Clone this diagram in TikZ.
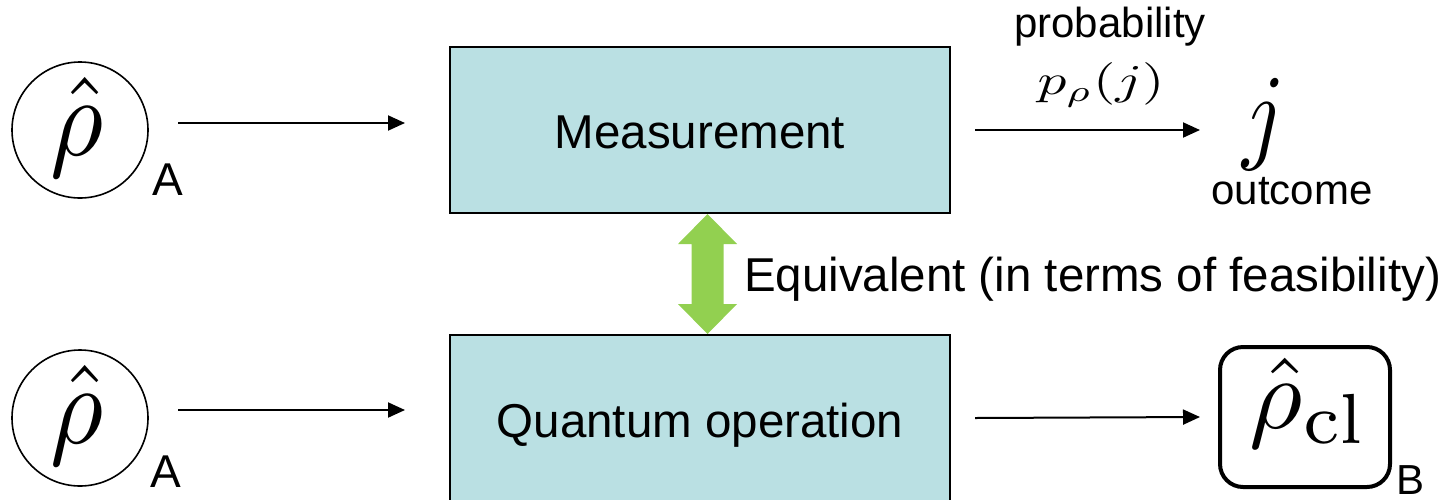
\documentclass[tikz,border=0pt]{standalone}
\usepackage[no-math]{fontspec}
\setmainfont{Liberation Sans}
\usepackage{graphicx}
\usetikzlibrary{arrows.meta,calc}
\definecolor{boxfill}{RGB}{186,224,227}
\definecolor{eqgreen}{RGB}{146,208,80}
\begin{document}
\begin{tikzpicture}[x=1pt,y=-1pt,
  every node/.style={inner sep=0pt,outer sep=0pt},
  procbox/.style={draw=black,line width=2pt,fill=boxfill,minimum width=500pt},
  statecirc/.style={draw=black,circle,line width=1.6pt,minimum size=136pt},
  flow/.style={line width=2pt,-{Triangle[length=17pt,width=15pt]}},
  lbl/.style={font=\fontsize{47.5}{52}\selectfont},
  albl/.style={font=\fontsize{46}{50}\selectfont},
  smalllbl/.style={font=\fontsize{42}{46}\selectfont},
]
\useasboundingbox (0,0) rectangle (1450,499);
\clip (0,0) rectangle (1450,499);

% top row
\node[statecirc] (s1) at (80,130) {};
\node (r1) at (77,127) {\resizebox*{53pt}{100pt}{$\hat\rho$}};
\node[albl,anchor=base] (a1) at (168,195) {A};
\node[procbox,minimum height=166pt] (m) at (700,130) {};
\node[lbl,anchor=base] (mt) at (700,148) {Measurement};
\draw[flow] ($(s1.east)+(30,-7)$) -- ($(m.west)+(-45,-7)$);
\coordinate (jin) at (1200,130);
\draw[flow] ($(m.east)+(25,0)$) -- (jin);
\node[smalllbl,anchor=base] (prob) at (1110,37) {probability};
\node (pj) at (1101,85) {\resizebox*{127pt}{44pt}{$p_\rho(j)$}};
\node (j) at (1263.5,124) {\resizebox*{43pt}{92pt}{$j$}};
\node[smalllbl,anchor=base] (out) at (1292,204) {outcome};

% equivalence arrow
\fill[eqgreen] (707.5,214) -- (737,244) -- (723.5,244) -- (723.5,304) -- (737,304)
  -- (707.5,334) -- (678,304) -- (691.5,304) -- (691.5,244) -- (678,244) -- cycle;
\node[lbl,anchor=base west] (eq) at (744,291) {Equivalent (in terms of feasibility)};

% bottom row
\node[statecirc] (s2) at (80,418) {};
\node (r2) at (77,415) {\resizebox*{53pt}{100pt}{$\hat\rho$}};
\node[albl,anchor=base] (a2) at (166,487) {A};
\node[procbox,minimum height=205pt] (q) at (700,437.5) {};
\node[lbl,anchor=base] (qt) at (700,437) {Quantum operation};
\draw[flow] ($(s2.east)+(30,-8)$) -- ($(q.west)+(-45,-27.5)$);
\node[draw=black,rounded corners=23pt,line width=4pt,minimum width=170pt,minimum height=140pt] (rc) at (1305,417) {};
\node (rcl) at (1309,403) {\resizebox*{118pt}{90pt}{$\hat\rho_{\mathrm{cl}}$}};
\node[smalllbl,anchor=base] (b) at (1410,494) {B};
\draw[flow] ($(q.east)+(25,-19.5)$) -- ($(rc.west)+(-20,0)$);
\end{tikzpicture}
\end{document}
